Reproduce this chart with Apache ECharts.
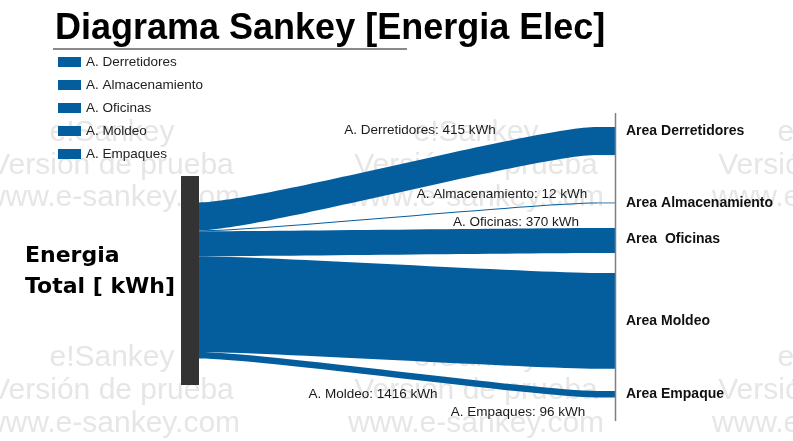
<!DOCTYPE html>
<html>
<head>
<meta charset="utf-8">
<script src="https://cdn.jsdelivr.net/npm/echarts@6/dist/echarts.min.js"></script>
<style>
html,body{margin:0;padding:0;background:#fff;}
#chart{width:793px;height:441px;}
</style>
</head>
<body>
<div id="chart"></div>
<script>
// ---- data ----
const titleText = 'Diagrama Sankey [Energia Elec]';
const sourceName = 'Energia Total [ kWh]';
const sourceLabel = 'Energia\nTotal [ kWh]';
const targetNames = ['Area Derretidores', 'Area Almacenamiento', 'Area  Oficinas', 'Area Moldeo', 'Area Empaque'];
const linkNames = ['A. Derretidores', 'A. Almacenamiento', 'A. Oficinas', 'A. Moldeo', 'A. Empaques'];
const values = [415, 12, 370, 1416, 96];
const legendNames = ['A. Derretidores', 'A. Almacenamiento', 'A. Oficinas', 'A. Moldeo', 'A. Empaques'];
const unit = 'kWh';
const watermarkLines = ['e!Sankey', 'Versión de prueba', 'www.e-sankey.com'];

// ---- layout / style ----
const BLUE = '#045e9e';
const PAD = 390; // invisible padding flow so source bar is taller than its flows
const targetLocalY = [-0.2344, 0.127, 0.2488, 0.4641, 1.0287];
const targetLabelOffsets = [[0, -10], [0, 0], [0, -1], [0, 0], [0, 0]];
const edgeLabelOffsets = [[22, -48], [104, -23], [118, -20], [-25, 82], [120, 37]];
const FONT = 'Liberation Sans, Arial, sans-serif';

const nodes = [
  {
    name: sourceName,
    itemStyle: { color: '#333333' },
    label: {
      show: true,
      formatter: sourceLabel,
      position: [-156, 96],
      align: 'left',
      verticalAlign: 'middle',
      fontFamily: 'DejaVu Sans',
      fontWeight: 'bold',
      fontSize: 22,
      lineHeight: 31,
      color: '#000'
    }
  },
  { name: '__padTop', itemStyle: { opacity: 0 }, label: { show: false } }
];
targetNames.forEach((n, i) => {
  nodes.push({
    name: n,
    localY: targetLocalY[i],
    itemStyle: { color: BLUE },
    label: {
      show: true,
      position: 'right',
      distance: 11,
      offset: targetLabelOffsets[i],
      fontFamily: FONT,
      fontWeight: 'bold',
      fontSize: 14,
      color: '#111'
    }
  });
});
nodes.push({ name: '__padBottom', itemStyle: { opacity: 0 }, label: { show: false } });

const links = [
  { source: sourceName, target: '__padTop', value: PAD, lineStyle: { opacity: 0 }, edgeLabel: { show: false } }
];
targetNames.forEach((n, i) => {
  links.push({
    source: sourceName,
    target: n,
    value: values[i],
    lineStyle: { color: BLUE, opacity: 1 },
    edgeLabel: {
      show: true,
      formatter: linkNames[i] + ': ' + values[i] + ' ' + unit,
      offset: edgeLabelOffsets[i],
      fontFamily: FONT,
      fontSize: 13.5,
      color: '#1a1a1a'
    }
  });
});
links.push({ source: sourceName, target: '__padBottom', value: PAD, lineStyle: { opacity: 0 }, edgeLabel: { show: false } });

// watermark
const wmCols = [112, 476, 840];
const wmRows = [[133, 166, 198], [358, 391, 424]];
const graphics = [];
wmRows.forEach(row => {
  wmCols.forEach(cx => {
    row.forEach((y, k) => {
      graphics.push({
        type: 'text', z: 0, silent: true,
        x: cx, y: y,
        style: {
          text: watermarkLines[k], fill: '#e6e6e6',
          font: '30px Liberation Sans', align: 'center', verticalAlign: 'middle'
        }
      });
    });
  });
});
graphics.push({ type: 'line', z: 100, silent: true, shape: { x1: 53, y1: 49, x2: 407, y2: 49 }, style: { stroke: '#8a8a8a', lineWidth: 2 } });
graphics.push({ type: 'line', z: 100, silent: true, shape: { x1: 615.5, y1: 113, x2: 615.5, y2: 421 }, style: { stroke: '#7f7f7f', lineWidth: 1.5 } });

const chart = echarts.init(document.getElementById('chart'), null, { renderer: 'canvas' });
chart.setOption({
  animation: false,
  backgroundColor: '#ffffff',
  textStyle: { fontFamily: FONT },
  title: {
    text: titleText,
    left: 50, top: 6,
    textStyle: { fontFamily: FONT, fontWeight: 'bold', fontSize: 36, color: '#000' }
  },
  legend: {
    data: legendNames,
    orient: 'vertical',
    left: 53, top: 50,
    itemWidth: 23, itemHeight: 10, itemGap: 9,
    icon: 'rect',
    selectedMode: false,
    textStyle: { fontFamily: FONT, fontSize: 13.5, color: '#222' }
  },
  graphic: graphics,
  series: [
    {
      type: 'sankey',
      left: 181, top: 176, width: 434, height: 209,
      nodeWidth: 18, nodeGap: 0,
      layoutIterations: 0,
      draggable: false,
      silent: true,
      emphasis: { disabled: true },
      lineStyle: { curveness: 0.15, color: BLUE, opacity: 1 },
      data: nodes,
      links: links
    },
    {
      type: 'pie',
      name: 'leyenda',
      silent: true,
      radius: [0, 0],
      center: [-50, -50],
      label: { show: false },
      labelLine: { show: false },
      itemStyle: { color: BLUE },
      data: legendNames.map(n => ({ name: n, value: 0 }))
    }
  ]
});
</script>
</body>
</html>
